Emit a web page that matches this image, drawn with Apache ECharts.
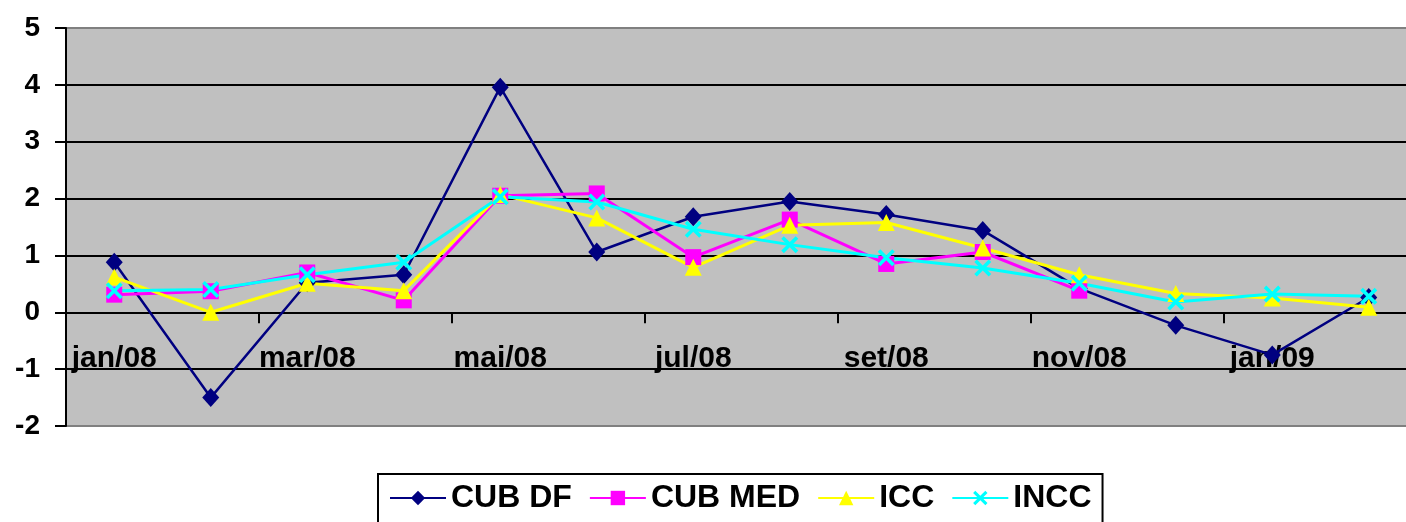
<!DOCTYPE html>
<html>
<head>
<meta charset="utf-8">
<script src="https://cdn.jsdelivr.net/npm/echarts@6/dist/echarts.min.js"></script>
<style>
  html, body { margin: 0; padding: 0; background: #fff; overflow: hidden; }
  /* a area do grafico passa um pouco da janela, como no original */
  #main { width: 1420px; height: 540px; }
</style>
</head>
<body>
<div id="main"></div>
<script>
// meses
var categories = ['jan/08', 'fev/08', 'mar/08', 'abr/08', 'mai/08', 'jun/08', 'jul/08',
  'ago/08', 'set/08', 'out/08', 'nov/08', 'dez/08', 'jan/09', 'fev/09'];

// valores
var cubDf = [0.88, -1.50, 0.52, 0.66, 3.96, 1.06, 1.68, 1.95, 1.72, 1.44, 0.42, -0.23, -0.75, 0.26];
var cubMed = [0.31, 0.37, 0.70, 0.21, 2.05, 2.09, 0.97, 1.63, 0.85, 1.06, 0.38, null, null, null];
var icc = [0.62, 0.00, 0.51, 0.38, 2.07, 1.66, 0.79, 1.53, 1.58, 1.13, 0.66, 0.33, 0.25, 0.09];
var incc = [0.38, 0.40, 0.66, 0.88, 2.03, 1.94, 1.46, 1.19, 0.96, 0.78, 0.51, 0.18, 0.32, 0.28];

var yMin = -2, yMax = 5;

var font = '"Liberation Sans", Arial, sans-serif';
// simbolo X preenchido
var crossPath = 'path://M0,1.5L1.5,0L5,3.5L8.5,0L10,1.5L6.5,5L10,8.5L8.5,10L5,6.5L1.5,10L0,8.5L3.5,5Z';

function serie(name, data, color, symbol, size, width) {
  return {
    name: name,
    type: 'line',
    data: data,
    symbol: symbol,
    symbolSize: size,
    showAllSymbol: true,
    connectNulls: false,
    lineStyle: { color: color, width: width },
    itemStyle: { color: color, borderWidth: 0 },
    emphasis: { disabled: true }
  };
}

var chart = echarts.init(document.getElementById('main'));
chart.setOption({
  animation: false,
  backgroundColor: '#ffffff',
  textStyle: { fontFamily: font },
  grid: {
    left: 66,
    right: 3,
    top: 28,
    bottom: 114,
    show: true,
    backgroundColor: '#C0C0C0',
    borderColor: '#808080',
    borderWidth: 2
  },
  legend: {
    left: 378,
    top: 474,
    padding: [8, 11, 20, 11],
    borderColor: '#000',
    borderWidth: 2,
    itemWidth: 56,
    itemHeight: 18,
    itemGap: 17,
    textStyle: { fontSize: 32, fontWeight: 'bold', color: '#000', fontFamily: font },
    data: ['CUB DF', 'CUB MED', 'ICC', 'INCC']
  },
  xAxis: {
    type: 'category',
    data: categories,
    boundaryGap: true,
    axisLine: { show: true, onZero: true, lineStyle: { color: '#000', width: 2 } },
    axisTick: { show: true, interval: 1, length: 11, lineStyle: { color: '#000', width: 2 } },
    axisLabel: {
      interval: 1,
      margin: -82,
      color: '#000',
      fontSize: 30,
      fontWeight: 'bold',
      fontFamily: font
    },
    splitLine: { show: false }
  },
  yAxis: {
    type: 'value',
    min: yMin,
    max: yMax,
    interval: 1,
    axisLine: { show: true, lineStyle: { color: '#000', width: 2 } },
    axisTick: { show: true, length: 11, lineStyle: { color: '#000', width: 2 } },
    axisLabel: {
      margin: 26,
      color: '#000',
      fontSize: 28,
      fontWeight: 'bold',
      fontFamily: font
    },
    splitLine: {
      show: true,
      lineStyle: {
        color: ['#808080', '#000', '#000', '#000', '#000', '#000', '#000', '#808080'],
        width: 2
      }
    }
  },
  series: [
    serie('CUB DF', cubDf, '#000080', 'diamond', [17, 19], 2.5),
    serie('CUB MED', cubMed, '#FF00FF', 'rect', 16, 3),
    serie('ICC', icc, '#FFFF00', 'triangle', 17, 3),
    serie('INCC', incc, '#00FFFF', crossPath, 17, 3)
  ]
});
</script>
</body>
</html>
